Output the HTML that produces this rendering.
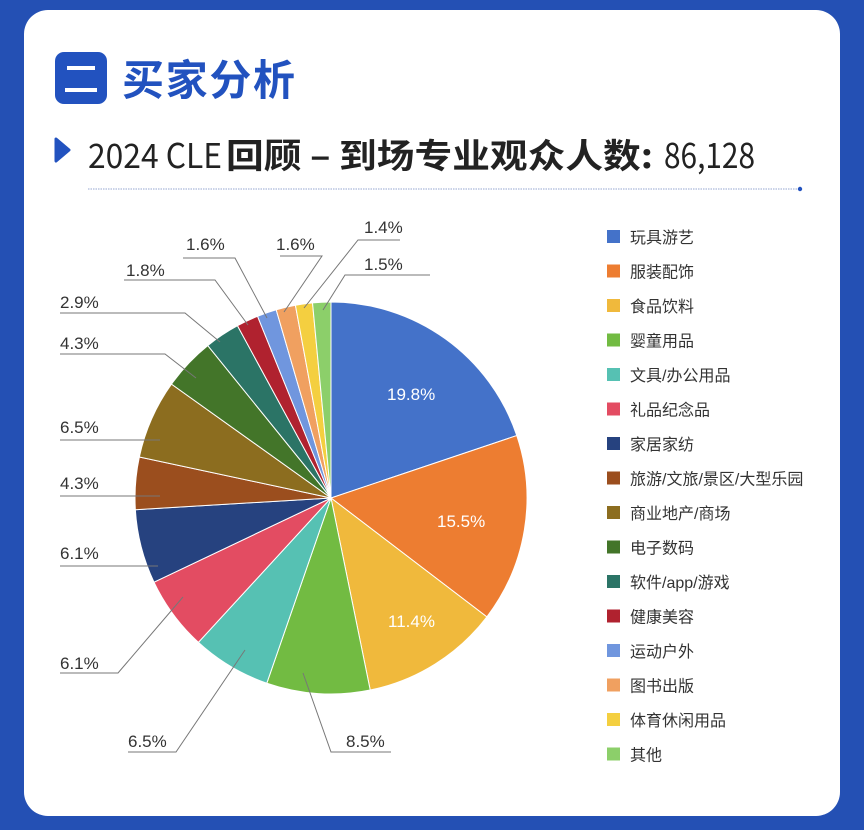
<!DOCTYPE html>
<html><head><meta charset="utf-8"><style>
body{margin:0;width:864px;height:830px;background:#2450b4;overflow:hidden;font-family:"Liberation Sans","Noto Sans CJK SC",sans-serif}
.card{position:absolute;left:24px;top:10px;width:816px;height:806px;background:#fff;border-radius:24px}
</style></head><body>
<div class="card"></div>
<svg width="864" height="830" style="position:absolute;left:0;top:0" id="s" font-family="Liberation Sans, Noto Sans CJK SC, sans-serif">
<rect x="55" y="52" width="52" height="52" rx="9" fill="#2252bf"/>
<rect x="67" y="66" width="28" height="4" fill="#fff"/><rect x="65" y="88" width="32" height="4" fill="#fff"/>
<text x="122" y="95" font-size="42" font-weight="bold" fill="#2252bf" font-family="Noto Sans CJK SC, sans-serif" textLength="173">买家分析</text>
<path d="M56 139 L69 150 L56 161 Z" fill="#2252bf" stroke="#2252bf" stroke-width="3" stroke-linejoin="round"/>
<text y="168" font-size="34" fill="#222" font-family="Noto Sans CJK SC, sans-serif"><tspan x="88" textLength="134" lengthAdjust="spacingAndGlyphs">2024 CLE</tspan><tspan x="226" font-weight="bold" textLength="427" lengthAdjust="spacingAndGlyphs">回顾 – 到场专业观众人数:</tspan><tspan x="664" textLength="91" lengthAdjust="spacingAndGlyphs">86,128</tspan></text>
<line x1="88" y1="189" x2="798" y2="189" stroke="#b8c4e0" stroke-width="1.5" stroke-dasharray="1.5 1"/>
<circle cx="800" cy="189" r="2.2" fill="#2252bf"/>
<g id="pie"></g>
<g id="lab" font-size="17" fill="#333"></g>
</svg>
<script>
var v=[19.8,15.5,11.4,8.5,6.5,6.1,6.1,4.3,6.5,4.3,2.9,1.8,1.6,1.6,1.4,1.5];
var c=["#4472c9","#ed7d31","#f0b93c","#72bb42","#56c1b3","#e34c62","#26427f","#9b4e1e","#8c6d1f","#437529","#2b7466","#b0222f","#7096de","#f0a060","#f4cf40","#8ccf6a"];
var names=["玩具游艺","服装配饰","食品饮料","婴童用品","文具/办公用品","礼品纪念品","家居家纺","旅游/文旅/景区/大型乐园","商业地产/商场","电子数码","软件/app/游戏","健康美容","运动户外","图书出版","体育休闲用品","其他"];
var tot=v.reduce((a,b)=>a+b),cx=331,cy=498,R=196,a=0,h="";
function P(an,r){return [cx+r*Math.sin(an),cy-r*Math.cos(an)];}
v.forEach((x,i)=>{var b=a+x/tot*2*Math.PI,p1=P(a,R),p2=P(b,R);
h+='<path d="M'+cx+' '+cy+'L'+p1[0]+' '+p1[1]+'A'+R+' '+R+' 0 '+((b-a)>Math.PI?1:0)+' 1 '+p2[0]+' '+p2[1]+'Z" fill="'+c[i]+'" stroke="#fff" stroke-width="1"/>';a=b;});
v.forEach((x,i)=>{var y=237+i*34.5;h+='<rect x="607" y="'+(y-7)+'" width="13" height="13" fill="'+c[i]+'"/><text x="630" y="'+(y+6)+'" font-size="16" fill="#333">'+names[i]+'</text>';});
document.getElementById('pie').innerHTML=h;
var L=[["19.8%",387,400,"#fff"],["15.5%",437,527,"#fff"],["11.4%",388,627,"#fff"]];
var g="";L.forEach(l=>g+='<text x="'+l[1]+'" y="'+l[2]+'" fill="'+l[3]+'">'+l[0]+'</text>');
var O=[["1.6%",186,250,[[183,258],[235,258],[267,318]]],["1.8%",126,276,[[124,280],[215,280],[248,325]]],
["2.9%",60,308,[[60,313],[185,313],[220,342]]],["4.3%",60,349,[[60,354],[165,354],[196,378]]],
["6.5%",60,433,[[60,440],[160,440]]],["4.3%",60,489,[[60,496],[160,496]]],["6.1%",60,559,[[60,566],[158,566]]],
["6.1%",60,669,[[60,673],[118,673],[183,597]]],["6.5%",128,747,[[128,752],[176,752],[245,650]]],
["8.5%",346,747,[[391,752],[331,752],[303,673]]],["1.6%",276,250,[[280,256],[322,256],[284,312]]],
["1.4%",364,233,[[400,240],[358,240],[304,308]]],["1.5%",364,270,[[430,275],[345,275],[323,310]]]];
O.forEach(o=>{g+='<text x="'+o[1]+'" y="'+o[2]+'">'+o[0]+'</text><polyline points="'+o[3].map(p=>p.join(',')).join(' ')+'" fill="none" stroke="#777" stroke-width="1"/>';});
document.getElementById('lab').innerHTML=g;
</script>
</body></html>
